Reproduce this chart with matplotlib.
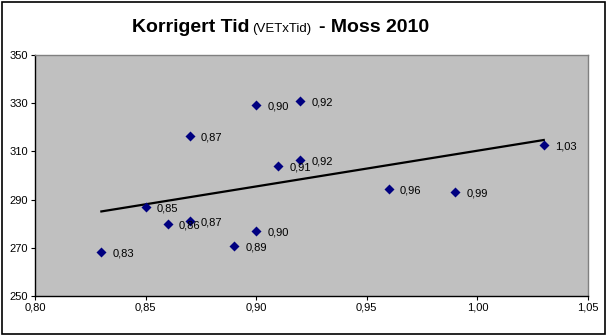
import numpy as np
import matplotlib
matplotlib.use("Agg")
import matplotlib.pyplot as plt
from matplotlib.patches import Rectangle

plt.rcParams['font.family'] = ['Liberation Sans', 'DejaVu Sans']

# data (x = VET, y = korrigert tid)
vet = [0.83, 0.85, 0.86, 0.87, 0.87, 0.89, 0.90, 0.90, 0.91, 0.92, 0.92, 0.96, 0.99, 1.03]
tid = [268.3, 286.9, 279.9, 281.1, 316.4, 270.8, 277.0, 329.3, 304.0, 306.4, 330.9, 294.4, 293.2, 312.7]
x_ticks = [0.80, 0.85, 0.90, 0.95, 1.00, 1.05]
y_ticks = [250, 270, 290, 310, 330, 350]

fig = plt.figure(figsize=(6.07, 3.35), dpi=100)
ax = fig.add_axes([35 / 607, 1 - 296 / 335, 553 / 607, 241 / 335])
ax.set_facecolor('#C0C0C0')

ax.scatter(vet, tid, marker='D', s=26, color='#000080', zorder=3, linewidths=0)

# linear trendline
k, m = np.polyfit(vet, tid, 1)
xs = np.array([min(vet), max(vet)])
ax.plot(xs, k * xs + m, color='black', lw=1.6, zorder=2)

for x, y in zip(vet, tid):
    ax.annotate(f"{x:.2f}".replace('.', ','), (x, y), xytext=(8, -1),
                textcoords='offset points', ha='left', va='center', fontsize=8, zorder=4)

ax.set_xlim(0.80, 1.05)
ax.set_ylim(250, 350)
ax.set_xticks(x_ticks)
ax.set_xticklabels([f"{v:.2f}".replace('.', ',') for v in x_ticks], fontsize=8)
ax.set_yticks(y_ticks)
ax.set_yticklabels([str(v) for v in y_ticks], fontsize=8)
ax.tick_params(direction='out', length=3, width=0.8, pad=2)

for side in ['top', 'right']:
    ax.spines[side].set_color('#808080')
    ax.spines[side].set_linewidth(1)
for side in ['left', 'bottom']:
    ax.spines[side].set_color('black')
    ax.spines[side].set_linewidth(1)

# title in three parts
renderer = fig.canvas.get_renderer()
x0 = 132 / 607
yt = 1 - 32 / 335
parts = [("Korrigert Tid", 14, 'bold', 3), ("(VETxTid)", 9.5, 'normal', 7), ("- Moss 2010", 14, 'bold', 0)]
for txt, size, weight, gap in parts:
    t = fig.text(x0, yt, txt, fontsize=size, fontweight=weight, ha='left', va='baseline')
    bb = t.get_window_extent(renderer=renderer)
    x0 = (bb.x1 + gap) / fig.bbox.width

fig.patches.append(Rectangle((0.003, 0.004), 0.993, 0.991, transform=fig.transFigure,
                             fill=False, edgecolor='black', lw=1.2))

fig.savefig('out.png', dpi=100)
